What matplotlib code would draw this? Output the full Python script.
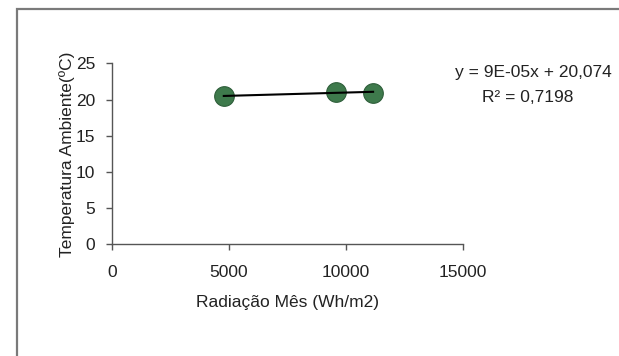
import numpy as np
import matplotlib
matplotlib.use("Agg")
import matplotlib.pyplot as plt
from matplotlib.patches import Rectangle

# monthly radiation vs ambient temperature
radiacao = [4790, 9590, 11170]
temperatura = [20.45, 21.1, 20.95]
# trendline as printed on the chart
slope = 9e-05
intercept = 20.074
r2_text = "0,7198"

x_ticks = [0, 5000, 10000, 15000]
y_ticks = [0, 5, 10, 15, 20, 25]

plt.rcParams['font.family'] = ['Liberation Sans', 'DejaVu Sans']

fig = plt.figure(figsize=(6.19, 3.56), dpi=100)
fig.patch.set_facecolor('white')

# outer chart frame (cut off at right and bottom, like the scan)
fig.patches.append(Rectangle((0.027, -0.1), 1.2, 1.075, transform=fig.transFigure,
                             fill=False, edgecolor='#7a7a7a', linewidth=1.6))

ax = fig.add_axes([0.1805, 0.3138, 0.567, 0.508])
ax.scatter(radiacao, temperatura, s=200, color='#3e7a4c', edgecolors='#2e5e3a',
           linewidths=0.8, zorder=2)

xs = np.array([min(radiacao), max(radiacao)])
ax.plot(xs, slope * xs + intercept, color='black', linewidth=1.5, zorder=3)

ax.set_xlim(0, 15000)
ax.set_ylim(0, 25)
ax.set_xticks(x_ticks)
ax.set_yticks(y_ticks)
ax.spines['top'].set_visible(False)
ax.spines['right'].set_visible(False)
for s in ['left', 'bottom']:
    ax.spines[s].set_color('#555555')
    ax.spines[s].set_linewidth(1.0)
ax.tick_params(axis='both', direction='out', length=4, width=1.0, color='#555555',
               labelsize=12.5, labelcolor='#222222')
ax.tick_params(axis='x', pad=11)
ax.tick_params(axis='y', pad=8)

ax.set_xlabel('Radiação Mês (Wh/m2)', fontsize=12.5, color='#222222')
ax.set_ylabel('Temperatura Ambiente(ºC)', fontsize=12.5, color='#222222')
ax.xaxis.set_label_coords(0.5, -0.28)
ax.yaxis.set_label_coords(-0.105, 0.5)

fig.text(0.861, 0.797, 'y = 9E-05x + 20,074', ha='center', va='center',
         fontsize=12.5, color='#222222')
fig.text(0.852, 0.725, 'R² = ' + r2_text, ha='center', va='center',
         fontsize=12.5, color='#222222')

fig.savefig('out.png', dpi=100)
